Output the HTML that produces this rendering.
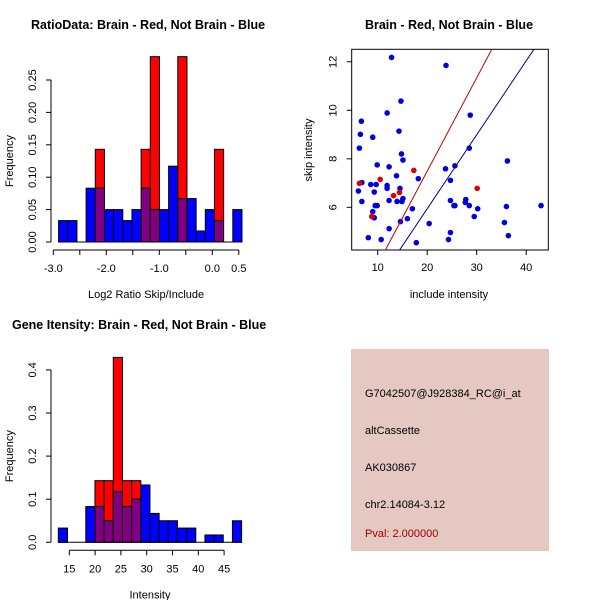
<!DOCTYPE html>
<html><head><meta charset="utf-8"><style>
body{margin:0;background:#fff}
svg{display:block;font-family:"Liberation Sans",sans-serif}
</style></head><body>
<svg id="c" width="600" height="600" xmlns="http://www.w3.org/2000/svg">
<rect width="600" height="600" fill="#fff"/>
<text x="31" y="29" font-size="12.5" font-weight="bold">RatioData: Brain - Red, Not Brain - Blue</text>
<text x="449" y="29" font-size="12.5" font-weight="bold" text-anchor="middle">Brain - Red, Not Brain - Blue</text>
<text x="12" y="329" font-size="12.5" font-weight="bold">Gene Itensity: Brain - Red, Not Brain - Blue</text>
<g id="g1"></g><g id="g2"></g><g id="g3"></g>
<rect x="351" y="349" width="198" height="202" fill="#e6c8c2"/>
<g font-size="11">
<text x="365" y="397">G7042507@J928384_RC@i_at</text>
<text x="365" y="434">altCassette</text>
<text x="365" y="471">AK030867</text>
<text x="365" y="508">chr2.14084-3.12</text>
<text x="365" y="537" fill="#a00000">Pval: 2.000000</text>
</g>
</svg>
<script>
// Ratio histogram data
const ratioStart = -2.9, ratioWidth = 0.173;
const ratioBlue = [0.033,0.033,0,0.083,0.083,0.05,0.05,0.033,0.05,0.083,0.05,0.05,0.117,0.067,0.067,0.017,0.05,0.033,0,0.05];
const ratioRed  = [0,0,0,0,0.143,0,0,0,0,0.143,0.286,0,0,0.286,0,0,0,0.143,0,0];
const ratioXTicks = [-3,-2.5,-2,-1.5,-1,-0.5,0,0.5];
const ratioXLabels = ["-3.0","","-2.0","","-1.0","","0.0","0.5"];
const ratioYTicks = [0,0.05,0.1,0.15,0.2,0.25];
const ratioYLabels = ["0.00","0.05","0.10","0.15","0.20","0.25"];
// Intensity histogram data
const intStart = 12.87, intWidth = 1.776;
const intBlue = [0.033,0,0,0.083,0.083,0.05,0.117,0.083,0.1,0.133,0.067,0.05,0.05,0.033,0.033,0,0.017,0.017,0,0.05];
const intRed  = [0,0,0,0,0.143,0.143,0.429,0.143,0.143,0,0,0,0,0,0,0,0,0,0,0];
const intXTicks = [15,20,25,30,35,40,45];
const intYTicks = [0,0.1,0.2,0.3,0.4];
const intYLabels = ["0.0","0.1","0.2","0.3","0.4"];
// Scatter data
const blueX = [12.8,23.8,14.7,11.9,28.7,6.7,6.5,14.3,9.0,6.3,28.5,14.8,15.1,36.2,9.9,25.6,12.3,23.7,13.8,18.2,6.8,8.6,9.7,11.9,11.9,14.5,24.7,6.1,9.3,6.8,12.3,13.9,14.9,24.7,27.8,27.7,15.1,25.4,25.6,28.5,9.5,9.9,36.0,43.0,30.2,9.0,17.0,9.3,16.0,29.5,20.4,35.6,12.3,24.7,8.1,10.7,17.8,24.3,36.4,14.6];
const blueY = [12.18,11.85,10.38,9.89,9.8,9.55,9.01,9.14,8.89,8.44,8.44,8.2,7.95,7.91,7.75,7.71,7.67,7.59,7.3,7.18,7.02,6.94,6.94,6.9,6.78,6.78,7.11,6.67,6.63,6.24,6.28,6.24,6.24,6.28,6.32,6.2,6.36,6.07,6.07,6.07,6.07,6.07,6.03,6.07,5.94,5.82,5.94,5.57,5.53,5.62,5.33,5.37,5.12,4.96,4.75,4.67,4.54,4.67,4.83,5.41];
const redX = [6.3,10.5,17.3,13.2,14.4,30.1,8.8];
const redY = [6.99,7.15,7.52,6.48,6.61,6.78,5.62];
const redLine = [0.385,-0.21];   // slope, intercept
const blueLine = [0.305,-0.16];
const scXTicks = [10,20,30,40];
const scYTicks = [6,8,10,12];

const NS="http://www.w3.org/2000/svg";
function mk(p,tag,a){const e=document.createElementNS(NS,tag);for(const k in a)e.setAttribute(k,a[k]);p.appendChild(e);return e;}

function hist(g,start,w,blue,red,xs,yP,xTicks,xLabels,yTicks,yLabels,xTitle,xmin,xmax,prefix){
  blue.forEach((b,i)=>{
    const r=red[i], x0=xs(start+i*w), x1=xs(start+(i+1)*w);
    const lo=Math.min(b,r), hi=Math.max(b,r);
    if(hi<=0) return;
    if(hi>lo){const e=mk(g,'rect',{x:x0,y:yP(hi),width:x1-x0,height:yP(lo)-yP(hi),fill:r>b?'#ff0000':'#0000ff',stroke:'#000','stroke-width':1});
      
      }
    if(lo>0){const e=mk(g,'rect',{x:x0,y:yP(lo),width:x1-x0,height:yP(0)-yP(lo),fill:'#800080',stroke:'#000','stroke-width':1});
      
      }
  });
  mk(g,'line',{x1:xs(start),x2:xs(start+blue.length*w),y1:yP(0),y2:yP(0),stroke:'#000'});
  const ay=yP(0)+8;
  const xa=mk(g,'g',{});
  
  
  mk(xa,'line',{x1:xs(xTicks[0]),x2:xs(xTicks[xTicks.length-1]),y1:ay,y2:ay,stroke:'#000'});
  xTicks.forEach((t,i)=>{mk(xa,'line',{x1:xs(t),x2:xs(t),y1:ay,y2:ay+5,stroke:'#000'});
    const tx=mk(xa,'text',{x:xs(t),y:ay+22,'font-size':11,'text-anchor':'middle'});tx.textContent=xLabels[i];});
  const xt=mk(g,'text',{x:(xs(xmin)+xs(xmax))/2,y:ay+48,'font-size':11,'text-anchor':'middle'});xt.textContent=xTitle;
  
  
  const ax=51;
  const ya=mk(g,'g',{});
  
  
  mk(ya,'line',{x1:ax,x2:ax,y1:yP(yTicks[0]),y2:yP(yTicks[yTicks.length-1]),stroke:'#000'});
  yTicks.forEach((t,i)=>{const y=yP(t);mk(ya,'line',{x1:ax-5,x2:ax,y1:y,y2:y,stroke:'#000'});
    const tx=mk(ya,'text',{x:ax-15,y:y,'font-size':11,'text-anchor':'middle',transform:`rotate(-90 ${ax-15} ${y})`});tx.textContent=yLabels[i];});
  const mid=(yP(yTicks[0])+yP(yTicks[yTicks.length-1]))/2;
  const yt=mk(g,'text',{x:13,y:mid,'font-size':11,'text-anchor':'middle',transform:`rotate(-90 13 ${mid})`});yt.textContent='Frequency';
  
  
}

{
  const xs=v=>53.3+(v+3)*53, yP=v=>242-v*648;
  hist(document.getElementById('g1'),ratioStart,ratioWidth,ratioBlue,ratioRed,xs,yP,ratioXTicks,ratioXLabels,ratioYTicks,ratioYLabels,'Log2 Ratio Skip/Include',-3,0.5,'ratio');
}
{
  const xs=v=>69.3+(v-15)*5.16, yP=v=>542.3-v*431;
  hist(document.getElementById('g3'),intStart,intWidth,intBlue,intRed,xs,yP,intXTicks,intXTicks.map(String),intYTicks,intYLabels,'Intensity',12.87,48.4,'intensity');
}
{
  const g=document.getElementById('g2');
  const xs=v=>377.7+(v-10)*4.95, ys=v=>207.3-(v-6)*24.25;
  const L=351.7,R=548.3,T=49.3,B=250;
  mk(g,'defs',{}).innerHTML='<clipPath id="cp"><rect x="'+L+'" y="'+T+'" width="'+(R-L)+'" height="'+(B-T)+'"/></clipPath>';
  const f=mk(g,'rect',{x:L,y:T,width:R-L,height:B-T,fill:'none',stroke:'#000'});
  
  
  blueX.forEach((x,i)=>{const c=mk(g,'circle',{cx:xs(x),cy:ys(blueY[i]),r:2.8,fill:'#0000dd'});
    
    });
  redX.forEach((x,i)=>{const c=mk(g,'circle',{cx:xs(x),cy:ys(redY[i]),r:2.8,fill:'#dd0000'});
    
    });
  const lg=mk(g,'g',{'clip-path':'url(#cp)'});
  [[redLine,'#c00000','red-fit-line'],[blueLine,'#00008b','blue-fit-line']].forEach(([p,col,n])=>{
    const xa=0,xb=60;const l=mk(lg,'line',{x1:xs(xa),y1:ys(p[0]*xa+p[1]),x2:xs(xb),y2:ys(p[0]*xb+p[1]),stroke:col,'stroke-width':1});
    
    });
  scXTicks.forEach(t=>{mk(g,'line',{x1:xs(t),x2:xs(t),y1:B,y2:B+5,stroke:'#000'});
    const tx=mk(g,'text',{x:xs(t),y:B+21,'font-size':11,'text-anchor':'middle'});tx.textContent=t;});
  scYTicks.forEach(t=>{mk(g,'line',{x1:L-5,x2:L,y1:ys(t),y2:ys(t),stroke:'#000'});
    const tx=mk(g,'text',{x:L-15,y:ys(t),'font-size':11,'text-anchor':'middle',transform:`rotate(-90 ${L-15} ${ys(t)})`});tx.textContent=t;});
  const xt=mk(g,'text',{x:449,y:298,'font-size':11,'text-anchor':'middle'});xt.textContent='include intensity';
  
  
  const yt=mk(g,'text',{x:312,y:150,'font-size':11,'text-anchor':'middle',transform:'rotate(-90 312 150)'});yt.textContent='skip intensity';
  
  
}
</script>
</body></html>
